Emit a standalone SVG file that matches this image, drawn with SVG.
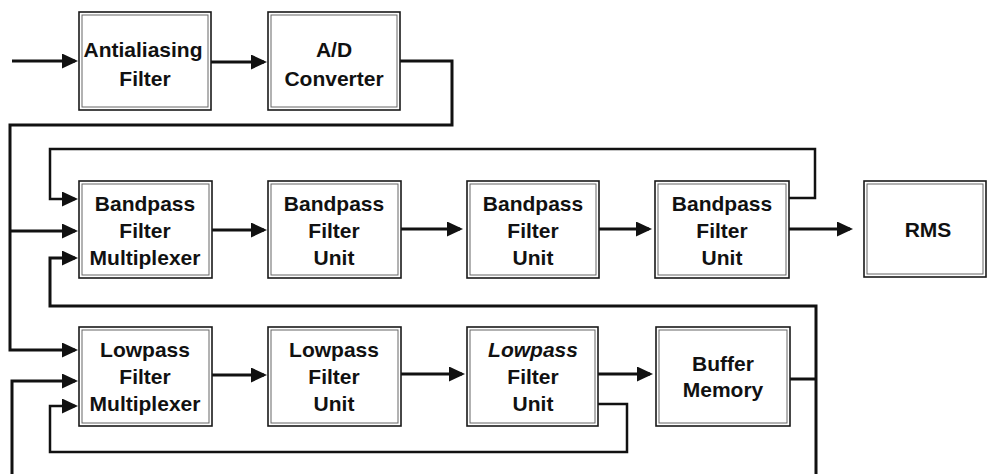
<svg xmlns="http://www.w3.org/2000/svg" width="990" height="474" viewBox="0 0 990 474">
  <style>
    .frame { fill: #ffffff; stroke: #1a1a1a; stroke-width: 1.6; }
    .inner { fill: none; stroke: #666666; stroke-width: 1; }
    .label { font-family: "Liberation Sans", Arial, sans-serif; font-weight: bold; font-size: 21px; fill: #111111; text-anchor: middle; }
    .wire { fill: none; stroke: #111111; stroke-width: 3; stroke-linejoin: miter; }
    .loop { fill: none; stroke: #111111; stroke-width: 2.5; stroke-linejoin: miter; }
  </style>
  <defs>
    <marker id="arrow" viewBox="0 0 16 15" refX="13" refY="7.5" markerWidth="16" markerHeight="15" markerUnits="userSpaceOnUse" orient="auto">
      <path d="M0,0 L16,7.5 L0,15 Z" fill="#111111"/>
    </marker>
  </defs>

  <rect width="990" height="474" fill="#ffffff"/>

  <!-- connectors -->
  <g id="connectors">
    <!-- input chain -->
    <path class="wire" d="M12,61 H75" marker-end="url(#arrow)"/>
    <path class="wire" d="M211,62 H264" marker-end="url(#arrow)"/>
    <!-- A/D output to both multiplexers -->
    <path class="wire" d="M400,61 H452 V125 H10 V350 H75" marker-end="url(#arrow)"/>
    <path class="wire" d="M10,231 H75" marker-end="url(#arrow)"/>
    <!-- bandpass chain -->
    <path class="wire" d="M212,230 H264" marker-end="url(#arrow)"/>
    <path class="wire" d="M401,229 H460" marker-end="url(#arrow)"/>
    <path class="wire" d="M599,229 H649" marker-end="url(#arrow)"/>
    <path class="wire" d="M789,229 H850" marker-end="url(#arrow)"/>
    <!-- bandpass feedback loop -->
    <path class="loop" d="M789,198 H815 V149 H50 V199 H75" marker-end="url(#arrow)"/>
    <!-- buffer memory return paths -->
    <path class="wire" d="M790,379 H816"/>
    <path class="wire" d="M816,474 V306 H50 V258 H75" marker-end="url(#arrow)"/>
    <path class="wire" d="M12,474 V381 H75" marker-end="url(#arrow)"/>
    <!-- lowpass chain -->
    <path class="wire" d="M212,375 H264" marker-end="url(#arrow)"/>
    <path class="wire" d="M401,374 H462" marker-end="url(#arrow)"/>
    <path class="wire" d="M598,374 H650" marker-end="url(#arrow)"/>
    <!-- lowpass feedback loop -->
    <path class="loop" d="M598,404 H627 V452 H50 V406 H75" marker-end="url(#arrow)"/>
  </g>

  <!-- front end -->
  <g id="antialiasing-filter">
    <rect class="frame" x="79" y="12" width="132" height="98"/>
    <rect class="inner" x="82" y="15" width="126" height="92"/>
    <text class="label" x="143" y="57">Antialiasing</text>
    <text class="label" x="145" y="86">Filter</text>
  </g>
  <g id="ad-converter">
    <rect class="frame" x="268" y="12" width="132" height="98"/>
    <rect class="inner" x="271" y="15" width="126" height="92"/>
    <text class="label" x="334" y="57">A/D</text>
    <text class="label" x="334" y="86">Converter</text>
  </g>

  <!-- bandpass row -->
  <g id="bandpass-multiplexer">
    <rect class="frame" x="79" y="181" width="133" height="97"/>
    <rect class="inner" x="82" y="184" width="127" height="91"/>
    <text class="label" x="145" y="211">Bandpass</text>
    <text class="label" x="145" y="238">Filter</text>
    <text class="label" x="145" y="265">Multiplexer</text>
  </g>
  <g id="bandpass-unit-1">
    <rect class="frame" x="268" y="181" width="133" height="97"/>
    <rect class="inner" x="271" y="184" width="127" height="91"/>
    <text class="label" x="334" y="211">Bandpass</text>
    <text class="label" x="334" y="238">Filter</text>
    <text class="label" x="334" y="265">Unit</text>
  </g>
  <g id="bandpass-unit-2">
    <rect class="frame" x="467" y="181" width="132" height="97"/>
    <rect class="inner" x="470" y="184" width="126" height="91"/>
    <text class="label" x="533" y="211">Bandpass</text>
    <text class="label" x="533" y="238">Filter</text>
    <text class="label" x="533" y="265">Unit</text>
  </g>
  <g id="bandpass-unit-3">
    <rect class="frame" x="655" y="181" width="134" height="97"/>
    <rect class="inner" x="658" y="184" width="128" height="91"/>
    <text class="label" x="722" y="211">Bandpass</text>
    <text class="label" x="722" y="238">Filter</text>
    <text class="label" x="722" y="265">Unit</text>
  </g>
  <g id="rms">
    <rect class="frame" x="864" y="181" width="122" height="96"/>
    <rect class="inner" x="867" y="184" width="116" height="90"/>
    <text class="label" x="928" y="237">RMS</text>
  </g>

  <!-- lowpass row -->
  <g id="lowpass-multiplexer">
    <rect class="frame" x="79" y="327" width="133" height="99"/>
    <rect class="inner" x="82" y="330" width="127" height="93"/>
    <text class="label" x="145" y="357">Lowpass</text>
    <text class="label" x="145" y="384">Filter</text>
    <text class="label" x="145" y="411">Multiplexer</text>
  </g>
  <g id="lowpass-unit-1">
    <rect class="frame" x="268" y="327" width="133" height="99"/>
    <rect class="inner" x="271" y="330" width="127" height="93"/>
    <text class="label" x="334" y="357">Lowpass</text>
    <text class="label" x="334" y="384">Filter</text>
    <text class="label" x="334" y="411">Unit</text>
  </g>
  <g id="lowpass-unit-2">
    <rect class="frame" x="467" y="327" width="131" height="99"/>
    <rect class="inner" x="470" y="330" width="125" height="93"/>
    <text class="label" x="533" y="357" font-style="italic">Lowpass</text>
    <text class="label" x="533" y="384">Filter</text>
    <text class="label" x="533" y="411">Unit</text>
  </g>
  <g id="buffer-memory">
    <rect class="frame" x="656" y="327" width="134" height="99"/>
    <rect class="inner" x="659" y="330" width="128" height="93"/>
    <text class="label" x="723" y="371">Buffer</text>
    <text class="label" x="723" y="397">Memory</text>
  </g>
</svg>
